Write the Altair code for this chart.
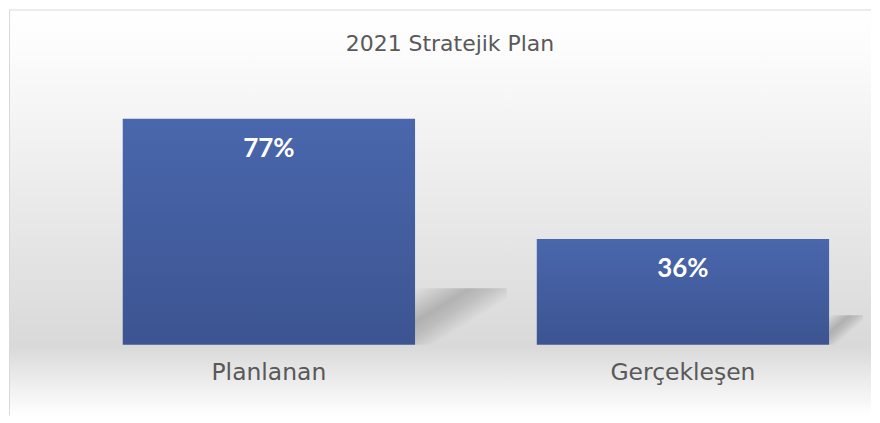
import altair as alt
import pandas as pd

categories = ["Planlanan", "Gerçekleşen"]
values = [77, 36]
labels = ["77%", "36%"]
shadow_ratio = [0.25, 0.28]

df = pd.DataFrame({
    "cat": categories,
    "val": values,
    "lab": labels,
    "shadow": [v * r for v, r in zip(values, shadow_ratio)],
})

W, H = 864, 336
BOTTOM = 407
YMAX = 114.3

xenc = alt.X("cat:N", sort=categories, title=None,
             scale=alt.Scale(range=[53, 883], paddingInner=0.294, paddingOuter=0.147),
             axis=alt.Axis(labelFontSize=23.5, labelColor="#595959", labelFont="DejaVu Sans",
                           labelPadding=16, ticks=False, domain=False, labelAngle=0,
                           zindex=2))
yenc = alt.Y("val:Q", scale=alt.Scale(domain=[0, YMAX]), axis=None)

one = pd.DataFrame({"a": [0]})

bg = alt.Chart(one).mark_rect(
    color=alt.Gradient(gradient="linear", x1=0, y1=0, x2=0, y2=1,
                       stops=[alt.GradientStop(offset=0, color="#ffffff"),
                              alt.GradientStop(offset=0.1, color="#fcfcfc"),
                              alt.GradientStop(offset=0.83, color="#d9d9d9"),
                              alt.GradientStop(offset=1, color="#ffffff")])
).encode(x=alt.value(0), x2=alt.value(W), y=alt.value(0), y2=alt.value(BOTTOM))

border_left = alt.Chart(one).mark_rule(color="#d9d9d9", strokeWidth=1).encode(
    x=alt.value(0.5), y=alt.value(0), y2=alt.value(BOTTOM))
border_top = alt.Chart(one).mark_rule(color="#d9d9d9", strokeWidth=1).encode(
    y=alt.value(0.5), x=alt.value(0), x2=alt.value(W))

shadow_grad = alt.Gradient(gradient="linear", x1=0, y1=0, x2=1, y2=1,
                           stops=[alt.GradientStop(offset=0, color="rgba(0,0,0,0.0)"),
                                  alt.GradientStop(offset=0.12, color="rgba(0,0,0,0.08)"),
                                  alt.GradientStop(offset=0.3, color="rgba(0,0,0,0.2)"),
                                  alt.GradientStop(offset=0.42, color="rgba(0,0,0,0.14)"),
                                  alt.GradientStop(offset=0.6, color="rgba(0,0,0,0)"),
                                  alt.GradientStop(offset=1, color="rgba(0,0,0,0)")])

base = alt.Chart(df)
ysh = alt.Y("shadow:Q", scale=alt.Scale(domain=[0, YMAX]), axis=None)

sh1 = base.transform_filter(alt.datum.cat == categories[0]).mark_bar(
    width=92, xOffset=192.5, color=shadow_grad
).encode(x=xenc, y=ysh)

sh2 = base.transform_filter(alt.datum.cat == categories[1]).mark_bar(
    width=34, xOffset=163.5, color=shadow_grad
).encode(x=xenc, y=ysh)

bars = base.mark_bar(
    color=alt.Gradient(gradient="linear", x1=0, y1=0, x2=0, y2=1,
                       stops=[alt.GradientStop(offset=0, color="#4a67ad"),
                              alt.GradientStop(offset=1, color="#3c5491")])
).encode(x=xenc, y=yenc)

text = base.mark_text(dy=30, baseline="middle", font="Lato", fontWeight="bold",
                      fontSize=26, color="#ffffff").encode(x=xenc, y=yenc, text="lab:N")

chart = alt.layer(bg, border_left, border_top, sh1, sh2, bars, text).properties(
    width=W, height=H,
    title=alt.TitleParams("2021 Stratejik Plan", fontSize=22, font="DejaVu Sans",
                          fontWeight="normal", color="#595959", offset=-47, anchor="middle",
                          dx=10),
    padding=0,
).configure_view(stroke=None)

chart.save("out.html", embed_options={"renderer": "svg", "actions": False})
